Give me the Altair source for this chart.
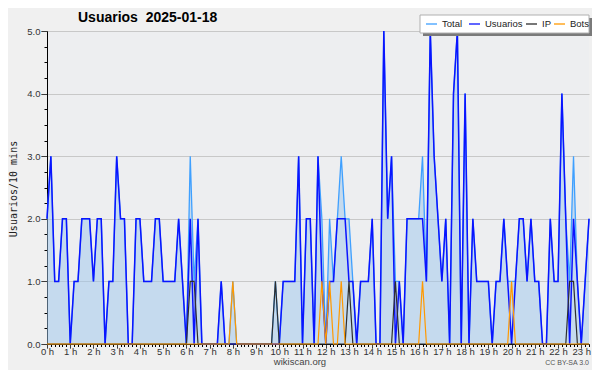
import altair as alt
import pandas as pd

# ---- data (10-minute buckets, 00:00 .. 23:20) ----
usuarios = [2, 3, 1, 1, 2, 2,  0, 1, 1, 2, 2, 2,  1, 2, 2, 0, 1, 1,  3, 2, 2, 0, 0, 2,
            2, 1, 1, 1, 2, 2,  1, 1, 1, 1, 2, 1,  0, 2, 0, 2, 0, 0,  0, 0, 0, 1, 0, 0,
            0, 0, 0, 0, 0, 0,  0, 0, 0, 0, 0, 0,  0, 1, 1, 1, 1, 3,  0, 2, 2, 0, 3, 1,
            0, 1, 1, 2, 2, 2,  1, 1, 0, 1, 1, 1,  2, 0, 0, 5, 2, 3,  0, 1, 0, 2, 2, 2,
            2, 2, 1, 5, 3, 2,  1, 2, 0, 4, 5, 0,  4, 0, 2, 1, 1, 1,  1, 0, 1, 1, 2, 1,
            0, 1, 2, 2, 1, 2,  1, 1, 0, 0, 2, 1,  1, 4, 2, 0, 2, 1,  0, 1, 2]
ip =       [0, 0, 0, 0, 0, 0,  0, 0, 0, 0, 0, 0,  0, 0, 0, 0, 0, 0,  0, 0, 0, 0, 0, 0,
            0, 0, 0, 0, 0, 0,  0, 0, 0, 0, 0, 0,  0, 1, 1, 0, 0, 0,  0, 0, 0, 0, 0, 0,
            0, 0, 0, 0, 0, 0,  0, 0, 0, 0, 0, 1,  0, 0, 0, 0, 0, 0,  0, 0, 0, 0, 0, 0,
            0, 0, 0, 0, 0, 0,  1, 0, 0, 0, 0, 0,  0, 0, 0, 0, 0, 0,  1, 0, 0, 0, 0, 0,
            0, 0, 0, 0, 0, 0,  0, 0, 0, 0, 0, 0,  0, 0, 0, 0, 0, 0,  0, 0, 0, 0, 0, 0,
            0, 0, 0, 0, 0, 0,  0, 0, 0, 0, 0, 0,  0, 0, 0, 1, 1, 0,  0, 0, 0]
bots =     [0, 0, 0, 0, 0, 0,  0, 0, 0, 0, 0, 0,  0, 0, 0, 0, 0, 0,  0, 0, 0, 0, 0, 0,
            0, 0, 0, 0, 0, 0,  0, 0, 0, 0, 0, 0,  0, 0, 0, 0, 0, 0,  0, 0, 0, 0, 0, 0,
            1, 0, 0, 0, 0, 0,  0, 0, 0, 0, 0, 0,  0, 0, 0, 0, 0, 0,  0, 0, 0, 0, 0, 1,
            0, 1, 0, 0, 1, 0,  0, 0, 0, 0, 0, 0,  0, 0, 0, 0, 0, 0,  0, 0, 0, 0, 0, 0,
            0, 1, 0, 0, 0, 0,  0, 0, 0, 0, 0, 0,  0, 0, 0, 0, 0, 0,  0, 0, 0, 0, 0, 0,
            1, 0, 0, 0, 0, 0,  0, 0, 0, 0, 0, 0,  0, 0, 0, 0, 0, 0,  0, 0, 0]
total =    [2, 3, 1, 1, 2, 2,  0, 1, 1, 2, 2, 2,  1, 2, 2, 0, 1, 1,  3, 2, 2, 0, 0, 2,
            2, 1, 1, 1, 2, 2,  1, 1, 1, 1, 2, 1,  0, 3, 1, 2, 0, 0,  0, 0, 0, 1, 0, 0,
            1, 0, 0, 0, 0, 0,  0, 0, 0, 0, 0, 1,  0, 1, 1, 1, 1, 3,  0, 2, 2, 0, 3, 2,
            0, 2, 1, 2, 3, 2,  2, 1, 0, 1, 1, 1,  2, 0, 0, 5, 2, 3,  1, 1, 0, 2, 2, 2,
            2, 3, 1, 5, 3, 2,  1, 2, 0, 4, 5, 0,  4, 0, 2, 1, 1, 1,  1, 0, 1, 1, 2, 1,
            1, 1, 2, 2, 1, 2,  1, 1, 0, 0, 2, 1,  1, 4, 2, 1, 3, 1,  0, 1, 2]

series_names = ["Total", "Usuarios", "IP", "Bots"]
series_colors = ["#3FA0FF", "#0A14FF", "#2E2E2E", "#FF9900"]
y_tick_values = [0, 0.25, 0.5, 0.75, 1, 1.25, 1.5, 1.75, 2, 2.25, 2.5, 2.75,
                 3, 3.25, 3.5, 3.75, 4, 4.25, 4.5, 4.75, 5]
title_text = "Usuarios\u00a0\u00a02025-01-18"
y_title = "Usuarios/10 mins"

idx = list(range(len(usuarios)))
df = pd.DataFrame({"i": idx, "Total": total, "Usuarios": usuarios, "IP": ip, "Bots": bots})

W, H = 542, 313
xs = alt.Scale(domain=[0, len(idx) - 1], nice=False, zero=False)
ys = alt.Scale(domain=[0, 5], nice=False)

x_axis = alt.Axis(
    values=idx,
    labelExpr="datum.value % 6 === 0 ? (datum.value / 6) + ' h' : ''",
    tickSize=4,
    tickDash={"condition": {"test": "datum.value % 6 === 0", "value": [1, 0]}, "value": [2.5, 20]},
    labelOverlap=False, labelFlush=False, grid=False,
    domainColor="#000000", tickColor="#000000", tickWidth=1, domainWidth=1,
    labelFont="Liberation Sans", labelFontSize=9.5, labelColor="#333333",
    labelPadding=-2, title=None,
)
y_axis = alt.Axis(
    values=y_tick_values,
    labelExpr="datum.value % 1 === 0 ? format(datum.value, '.1f') : ''",
    tickSize=6,
    tickDash={"condition": {"test": "datum.value % 1 === 0", "value": [1, 0]}, "value": [3, 20]},
    grid=True, gridColor="#C8C8C8", gridWidth=1,
    gridOpacity={"condition": {"test": "datum.value % 1 === 0", "value": 1}, "value": 0},
    domainColor="#000000", tickColor="#000000", tickWidth=1, domainWidth=1,
    labelFont="Liberation Sans", labelFontSize=9.5, labelColor="#333333",
    labelPadding=1, labelOverlap=False, title=None,
)

base = alt.Chart(df)
area = base.mark_area(color="#9EC6EC", opacity=0.5, interpolate="linear").encode(
    x=alt.X("i:Q", scale=xs, axis=x_axis),
    y=alt.Y("Total:Q", scale=ys, axis=y_axis),
)

def line(field, color, width):
    return base.mark_line(color=color, strokeWidth=width, interpolate="linear").encode(
        x=alt.X("i:Q", scale=xs, axis=x_axis),
        y=alt.Y(f"{field}:Q", scale=ys, axis=y_axis),
    )

l_total = line("Total", series_colors[0], 1.3)
l_usu = line("Usuarios", series_colors[1], 1.5)
l_ip = line("IP", series_colors[2], 1.2)
l_bots = line("Bots", series_colors[3], 1.2)

one = pd.DataFrame({"t": [title_text]})
title = alt.Chart(one).mark_text(
    font="Liberation Sans", fontSize=14, fontWeight="bold", align="left",
    baseline="alphabetic", color="#000000",
).encode(text="t:N", x=alt.value(31), y=alt.value(-9))

ytitle = alt.Chart(pd.DataFrame({"t": [y_title]})).mark_text(
    font="DejaVu Sans Mono", fontSize=10, angle=270, align="center",
    baseline="middle", color="#222222",
).encode(text="t:N", x=alt.value(-33), y=alt.value(158))

credit = alt.Chart(pd.DataFrame({"t": ["wikiscan.org"]})).mark_text(
    font="Liberation Sans", fontSize=9.5, align="center", baseline="middle", color="#444444",
).encode(text="t:N", x=alt.value(253), y=alt.value(331))

lic = alt.Chart(pd.DataFrame({"t": ["CC BY-SA 3.0"]})).mark_text(
    font="Liberation Sans", fontSize=7, align="right", baseline="middle", color="#555555",
).encode(text="t:N", x=alt.value(542), y=alt.value(332))

# legend box with shadow
shadow = alt.Chart(one).mark_rect(color="#7A7A7A").encode(
    x=alt.value(376), x2=alt.value(545), y=alt.value(-13), y2=alt.value(5))
box = alt.Chart(one).mark_rect(color="#FFFFFF", stroke="#B0B0B0", strokeWidth=1).encode(
    x=alt.value(373), x2=alt.value(542), y=alt.value(-16), y2=alt.value(2))

leg_x = [379, 422, 479, 507]
leg_df = pd.DataFrame({"name": series_names, "color": series_colors,
                       "x": leg_x, "x2": [v + 11 for v in leg_x], "tx": [v + 16 for v in leg_x]})
leg_lines = alt.Chart(leg_df).mark_rule(strokeWidth=1.3).encode(
    x=alt.X("x:Q", scale=None), x2="x2:Q", y=alt.value(-7),
    color=alt.Color("color:N", scale=None))
leg_text = alt.Chart(leg_df).mark_text(
    font="Liberation Sans", fontSize=9.5, align="left", baseline="middle", color="#222222",
).encode(x=alt.X("tx:Q", scale=None), y=alt.value(-7), text="name:N")

chart = alt.layer(
    area, l_total, l_usu, l_ip, l_bots,
    title, ytitle, credit, lic, shadow, box, leg_lines, leg_text,
).properties(
    width=W, height=H,
    autosize=alt.AutoSizeParams(type="none"),
    padding={"left": 39, "top": 23, "right": 3, "bottom": 26},
    background="#F0F0F0",
).configure_view(fill="#EDEEF0", stroke=None)

chart.save("out.html", embed_options={"renderer": "svg", "actions": False})
